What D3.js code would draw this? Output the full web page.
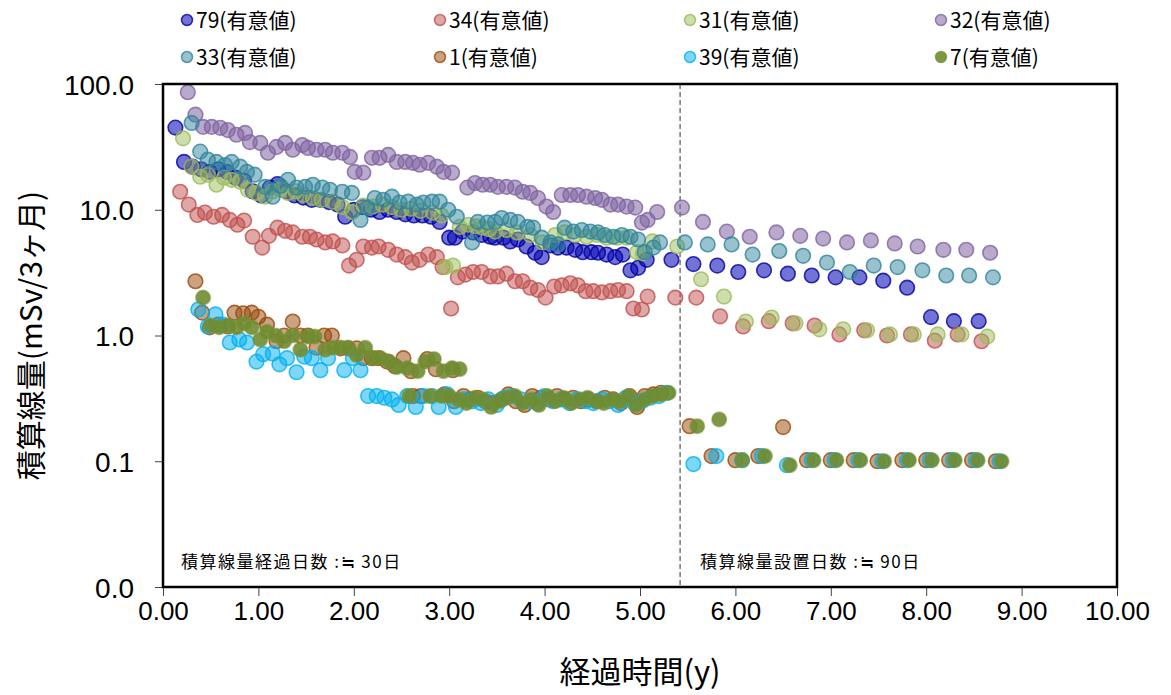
<!DOCTYPE html>
<html>
<head>
<meta charset="utf-8">
<script src="https://cdn.jsdelivr.net/npm/d3@7"></script>
<style>
  body { margin: 0; background: #fff; }
  text { font-family: "Liberation Sans", Arial, sans-serif; }
  .jp { font-family: "Noto Sans CJK JP", "Noto Sans", sans-serif; }
</style>
</head>
<body>
<div id="chart"></div>
<script>
// legend names
var names = ["79(有意値)", "34(有意値)", "31(有意値)", "32(有意値)",
             "33(有意値)", "1(有意値)", "39(有意値)", "7(有意値)"];

var xTicks = [0, 1, 2, 3, 4, 5, 6, 7, 8, 9, 10];
var yTicks = [0.01, 0.1, 1, 10, 100];

// [years, mSv/3months]
var s79 = [[0.13,45],[0.22,24],[0.31,22],[0.40,21],[0.49,20],[0.58,21],[0.67,20],[0.76,18],[0.85,17],[0.94,14],[1.03,13],[1.12,15],[1.20,16],[1.29,14],[1.38,13],[1.47,12.5],[1.56,12],[1.65,12],[1.74,11.5],[1.83,11],[1.91,8.8],[2.00,10],[2.09,10.5],[2.18,10],[2.27,9.6],[2.36,10],[2.45,9.6],[2.54,9.2],[2.63,9.0],[2.72,9.0],[2.81,8.8],[2.90,8.0],[3.00,6.0],[3.06,6.0],[3.14,6.7],[3.25,6.6],[3.34,6.3],[3.43,6.1],[3.48,6.0],[3.57,6.0],[3.64,5.6],[3.72,5.8],[3.81,5.1],[3.90,4.55],[3.97,4.2],[4.06,5.2],[4.14,5.0],[4.23,5.0],[4.32,4.8],[4.40,4.6],[4.49,4.6],[4.56,4.55],[4.65,4.4],[4.74,4.2],[4.82,4.4],[4.90,3.3],[4.98,3.45],[5.07,4.0],[5.33,4.0],[5.56,3.7],[5.81,3.6],[6.03,3.2],[6.30,3.3],[6.55,3.1],[6.80,3.0],[7.05,2.9],[7.30,2.9],[7.55,2.73],[7.80,2.4],[8.05,1.4],[8.29,1.3],[8.55,1.3]];
var s34 = [[0.18,13.9],[0.27,11],[0.36,9.1],[0.44,9.5],[0.53,8.8],[0.62,9.1],[0.70,8.3],[0.78,7.6],[0.85,8.2],[0.94,6.1],[1.04,5.0],[1.11,6.2],[1.20,7.2],[1.28,6.8],[1.36,6.6],[1.46,6.1],[1.54,6.1],[1.61,5.8],[1.70,5.5],[1.78,5.6],[1.88,5.2],[1.95,3.6],[2.03,4.0],[2.10,5.1],[2.19,5.0],[2.26,5.1],[2.36,4.8],[2.45,4.4],[2.54,4.2],[2.61,3.8],[2.69,4.0],[2.78,4.4],[2.87,4.2],[2.93,3.5],[3.02,1.64],[3.09,2.9],[3.17,3.05],[3.25,3.2],[3.34,3.2],[3.43,2.95],[3.51,2.95],[3.60,3.1],[3.69,2.7],[3.77,2.7],[3.85,2.4],[3.93,2.3],[4.01,2.0],[4.10,2.45],[4.18,2.5],[4.27,2.6],[4.35,2.5],[4.43,2.25],[4.51,2.25],[4.60,2.2],[4.69,2.25],[4.77,2.3],[4.86,2.25],[4.93,1.64],[5.02,1.61],[5.08,2.04],[5.37,2.0],[5.59,2.0],[5.84,1.42],[6.08,1.18],[6.35,1.3],[6.60,1.25],[6.83,1.2],[7.09,1.02],[7.35,1.1],[7.59,1.0],[7.84,1.02],[8.09,0.91],[8.33,1.02],[8.58,0.9]];
var s31 = [[0.21,37],[0.30,22],[0.39,18.3],[0.47,19],[0.56,15.8],[0.64,18],[0.72,17.3],[0.81,16.7],[0.89,14.4],[0.98,13.6],[1.07,12.7],[1.15,14],[1.23,14.5],[1.31,13.6],[1.39,14],[1.47,13.1],[1.57,12.4],[1.66,12],[1.78,11.6],[1.88,10.5],[1.98,9.6],[2.10,10.8],[2.20,10.6],[2.30,11],[2.40,10.5],[2.50,10],[2.60,10.2],[2.70,9.8],[2.83,9.5],[2.92,9.0],[2.96,3.5],[3.04,3.6],[3.11,7.3],[3.20,7.6],[3.28,7.4],[3.35,7.2],[3.42,7.0],[3.48,6.7],[3.60,6.9],[3.71,6.6],[3.85,6.3],[3.98,5.5],[4.11,6.3],[4.21,6.6],[4.32,6.3],[4.44,6.1],[4.55,6.3],[4.65,6.0],[4.76,6.0],[4.86,6.0],[4.97,4.6],[5.03,4.5],[5.13,5.6],[5.39,5.1],[5.64,2.8],[5.88,2.04],[6.11,1.29],[6.38,1.39],[6.63,1.25],[6.88,1.12],[7.13,1.12],[7.38,1.1],[7.62,1.02],[7.87,1.02],[8.12,1.02],[8.37,1.02],[8.64,0.98]];
var s32 = [[0.26,86],[0.34,57],[0.42,45.6],[0.51,45.6],[0.60,44.8],[0.68,43],[0.77,39.5],[0.86,40.8],[0.91,34.5],[1.02,34],[1.10,28.4],[1.19,31.6],[1.28,34],[1.36,30],[1.46,32.7],[1.52,31],[1.61,30],[1.70,30],[1.78,28.4],[1.88,28.4],[1.96,26.3],[2.01,20],[2.10,19.7],[2.19,25.9],[2.27,25.9],[2.36,27.3],[2.45,24],[2.54,24],[2.62,23.6],[2.69,22.8],[2.78,23.6],[2.87,22],[2.94,20],[3.03,19.7],[3.19,15],[3.27,16.3],[3.35,15.8],[3.43,15.8],[3.51,15.2],[3.60,15.2],[3.69,15],[3.77,13.9],[3.85,13.6],[3.93,12.4],[4.02,10.6],[4.09,9.6],[4.18,13.1],[4.27,13.1],[4.35,13.1],[4.44,12.7],[4.53,12.4],[4.60,12],[4.69,11],[4.77,11],[4.86,10.6],[4.95,10.4],[5.02,7.9],[5.08,8.3],[5.18,9.6],[5.44,10.4],[5.66,8.0],[5.91,6.7],[6.15,6.1],[6.43,6.6],[6.68,6.2],[6.92,5.9],[7.17,5.5],[7.42,5.7],[7.67,5.4],[7.91,5.1],[8.18,4.8],[8.42,4.8],[8.67,4.55]];
var s33 = [[0.30,49],[0.39,29],[0.47,25],[0.56,24],[0.65,22.7],[0.72,24],[0.81,22],[0.88,20],[0.96,19],[1.07,15.2],[1.15,12.7],[1.23,15.5],[1.31,17.3],[1.40,15],[1.49,15.2],[1.57,15.8],[1.67,15],[1.75,14.4],[1.88,13.9],[1.98,13.6],[2.07,8.3],[2.14,10.4],[2.22,12.4],[2.31,12],[2.40,12.7],[2.48,11.4],[2.57,11.6],[2.66,11],[2.73,11.4],[2.82,11.6],[2.90,11.6],[2.99,10],[3.08,8.8],[3.24,5.5],[3.30,8.0],[3.40,7.9],[3.48,8.0],[3.55,8.6],[3.64,8.3],[3.72,8.0],[3.82,7.3],[3.88,7.2],[3.97,6.0],[4.06,5.5],[4.14,5.3],[4.21,7.2],[4.30,6.7],[4.39,6.9],[4.48,6.7],[4.56,6.6],[4.63,6.3],[4.72,6.1],[4.81,6.3],[4.90,6.1],[4.98,5.8],[5.05,4.6],[5.14,5.0],[5.21,5.5],[5.47,5.5],[5.71,5.3],[5.96,5.3],[6.18,4.4],[6.46,4.7],[6.71,4.3],[6.96,3.8],[7.20,3.2],[7.45,3.6],[7.70,3.5],[7.96,3.3],[8.21,3.0],[8.45,3.0],[8.70,2.9]];
var s1 = [[0.34,2.7],[0.41,1.52],[0.49,1.16],[0.58,1.22],[0.68,1.18],[0.75,1.52],[0.84,1.5],[0.93,1.52],[1.00,1.41],[1.09,1.22],[1.19,0.9],[1.27,1.0],[1.36,1.29],[1.44,1.0],[1.52,1.0],[1.61,0.8],[1.69,1.0],[1.77,1.0],[1.86,0.79],[1.94,0.79],[2.03,0.79],[2.10,0.66],[2.19,0.66],[2.26,0.66],[2.35,0.62],[2.43,0.57],[2.52,0.66],[2.60,0.52],[2.77,0.65],[2.86,0.54],[3.04,0.53],[2.62,0.33],[2.70,0.33],[2.95,0.34],[3.05,0.30],[3.15,0.33],[3.22,0.31],[3.30,0.32],[3.38,0.30],[3.46,0.29],[3.55,0.31],[3.62,0.34],[3.70,0.30],[3.79,0.28],[3.87,0.33],[3.96,0.32],[4.05,0.31],[4.13,0.33],[4.21,0.31],[4.30,0.32],[4.38,0.30],[4.46,0.31],[4.55,0.30],[4.63,0.32],[4.72,0.31],[4.80,0.29],[4.89,0.33],[4.97,0.27],[5.05,0.33],[5.14,0.34],[5.22,0.35],[5.52,0.19],[5.75,0.11],[6.00,0.102],[6.24,0.11],[6.50,0.187],[6.75,0.102],[7.00,0.102],[7.24,0.102],[7.49,0.100],[7.75,0.102],[8.00,0.102],[8.24,0.102],[8.48,0.102],[8.73,0.100]];
var s39 = [[0.37,1.61],[0.47,1.18],[0.55,1.47],[0.63,1.22],[0.70,0.88],[0.80,0.93],[0.88,0.88],[0.98,0.62],[1.05,0.71],[1.15,0.72],[1.22,0.59],[1.30,0.66],[1.40,0.51],[1.48,0.68],[1.56,0.66],[1.65,0.53],[1.73,0.66],[1.90,0.53],[1.99,0.66],[2.07,0.53],[2.15,0.33],[2.24,0.33],[2.32,0.32],[2.40,0.31],[2.47,0.28],[2.56,0.33],[2.65,0.27],[2.73,0.33],[2.82,0.33],[2.89,0.27],[2.98,0.34],[3.07,0.27],[3.16,0.31],[3.24,0.30],[3.33,0.29],[3.41,0.31],[3.50,0.28],[3.58,0.32],[3.66,0.33],[3.75,0.31],[3.84,0.30],[3.92,0.29],[4.00,0.33],[4.09,0.30],[4.17,0.31],[4.26,0.29],[4.34,0.31],[4.43,0.30],[4.51,0.29],[4.60,0.31],[4.68,0.30],[4.77,0.28],[4.85,0.32],[4.94,0.29],[5.02,0.30],[5.11,0.32],[5.20,0.33],[5.28,0.35],[5.56,0.095],[5.80,0.11],[6.07,0.102],[6.28,0.11],[6.54,0.093],[6.80,0.102],[7.04,0.102],[7.29,0.102],[7.54,0.100],[7.80,0.102],[8.04,0.102],[8.28,0.102],[8.52,0.102],[8.77,0.100]];
var s7 = [[0.42,2.0],[0.50,1.2],[0.59,1.16],[0.68,1.2],[0.77,1.16],[0.85,1.25],[0.93,1.16],[1.02,0.93],[1.09,1.07],[1.18,1.0],[1.27,0.9],[1.36,1.0],[1.44,0.77],[1.52,0.98],[1.59,0.98],[1.70,0.77],[1.78,0.8],[1.86,0.8],[1.94,0.8],[2.03,0.7],[2.12,0.8],[2.20,0.66],[2.28,0.66],[2.37,0.62],[2.45,0.56],[2.56,0.55],[2.67,0.52],[2.75,0.62],[2.84,0.65],[2.94,0.52],[3.03,0.55],[3.11,0.54],[2.58,0.33],[2.80,0.33],[2.92,0.33],[3.00,0.33],[3.10,0.31],[3.18,0.29],[3.27,0.32],[3.35,0.31],[3.44,0.27],[3.52,0.30],[3.60,0.32],[3.69,0.33],[3.77,0.29],[3.86,0.31],[3.94,0.28],[4.03,0.33],[4.11,0.30],[4.20,0.32],[4.28,0.29],[4.37,0.31],[4.45,0.32],[4.54,0.30],[4.62,0.29],[4.71,0.31],[4.79,0.30],[4.88,0.33],[4.96,0.28],[5.05,0.31],[5.13,0.33],[5.22,0.34],[5.30,0.35],[5.60,0.19],[5.83,0.215],[6.07,0.102],[6.31,0.11],[6.57,0.093],[6.82,0.102],[7.06,0.102],[7.31,0.102],[7.56,0.100],[7.82,0.102],[8.06,0.102],[8.30,0.102],[8.54,0.102],[8.79,0.100]];

var allSeries = [s79, s34, s31, s32, s33, s1, s39, s7];
var strokes = ["#0000a0", "#c0504d", "#9bbb59", "#8064a2", "#31859c", "#984807", "#00b0f0", "#77933c"];
var fills   = ["#0000b4", "#c0504d", "#9bbb59", "#8064a2", "#31859c", "#984807", "#00b0f0", "#6f8c30"];
var fillOp  = [0.55, 0.5, 0.5, 0.55, 0.5, 0.5, 0.5, 0.9];

var width = 1171, height = 695;
var plotL = 163, plotR = 1117, plotT = 84, plotB = 587;
var splitYear = 5.42;

var svg = d3.select("#chart").append("svg")
  .attr("width", width)
  .attr("height", height);

var xScale = d3.scaleLinear().domain([0, 10]).range([plotL, plotR]);
var yScale = d3.scaleLog().domain([0.01, 100]).range([plotB, plotT]);

// axes
var xAxis = d3.axisBottom(xScale).tickValues(xTicks).tickSize(9).tickFormat(d3.format(".2f"));
var yAxis = d3.axisLeft(yScale).tickValues(yTicks).tickSize(8).tickFormat(d3.format(".1f"));

var gx = svg.append("g")
  .attr("transform", "translate(0," + plotB + ")")
  .call(xAxis);
gx.select(".domain").remove();
gx.selectAll("line").attr("stroke", "#444");
gx.selectAll("text").attr("font-size", 26).attr("fill", "#000").attr("dy", "0.8em");

var gy = svg.append("g")
  .attr("transform", "translate(" + plotL + ",0)")
  .call(yAxis);
gy.select(".domain").remove();
gy.selectAll("line").attr("stroke", "#444");
gy.selectAll("text").attr("font-size", 28).attr("fill", "#000").attr("x", -29).attr("dy", "0.36em");

// split marker
svg.append("line")
  .attr("x1", xScale(splitYear)).attr("x2", xScale(splitYear))
  .attr("y1", plotT).attr("y2", plotB)
  .attr("stroke", "#333")
  .attr("stroke-width", 1)
  .attr("stroke-dasharray", "5,3");

// points
allSeries.forEach(function(s, i) {
  svg.append("g").selectAll("circle")
    .data(s)
    .enter()
    .append("circle")
    .attr("cx", function(d) { return xScale(d[0]); })
    .attr("cy", function(d) { return yScale(d[1]); })
    .attr("r", 7.3)
    .attr("fill", fills[i])
    .attr("fill-opacity", fillOp[i])
    .attr("stroke", strokes[i])
    .attr("stroke-opacity", i === 7 ? 0.5 : 0.8)
    .attr("stroke-width", 1.6);
});

// frame
svg.append("rect")
  .attr("x", plotL).attr("y", plotT)
  .attr("width", plotR - plotL).attr("height", plotB - plotT)
  .attr("fill", "none")
  .attr("stroke", "#000")
  .attr("stroke-width", 2.5);

// notes
svg.append("text").attr("class", "jp")
  .attr("x", 181).attr("y", 568)
  .attr("font-size", 17).attr("letter-spacing", 1.5)
  .text("積算線量経過日数 :≒ 30日");
svg.append("text").attr("class", "jp")
  .attr("x", 700).attr("y", 568)
  .attr("font-size", 17).attr("letter-spacing", 1.5)
  .text("積算線量設置日数 :≒ 90日");

// axis titles
svg.append("text").attr("class", "jp")
  .attr("x", (plotL + plotR) / 2).attr("y", 683)
  .attr("text-anchor", "middle")
  .attr("font-size", 31)
  .text("経過時間(y)");
svg.append("text").attr("class", "jp")
  .attr("transform", "translate(42," + ((plotT + plotB) / 2) + ")rotate(-90)")
  .attr("text-anchor", "middle")
  .attr("font-size", 30)
  .text("積算線量(mSv/3ヶ月)");

// legend
var legX = [187, 440, 690, 941];
var legY = [20, 57];
names.forEach(function(n, i) {
  var g = svg.append("g")
    .attr("transform", "translate(" + legX[i % 4] + "," + legY[Math.floor(i / 4)] + ")");
  g.append("circle")
    .attr("r", 5.5)
    .attr("fill", fills[i])
    .attr("fill-opacity", fillOp[i])
    .attr("stroke", strokes[i])
    .attr("stroke-opacity", 0.8)
    .attr("stroke-width", 1.5);
  g.append("text").attr("class", "jp")
    .attr("x", 9).attr("dy", "0.36em")
    .attr("font-size", 21)
    .text(n);
});
</script>
</body>
</html>
